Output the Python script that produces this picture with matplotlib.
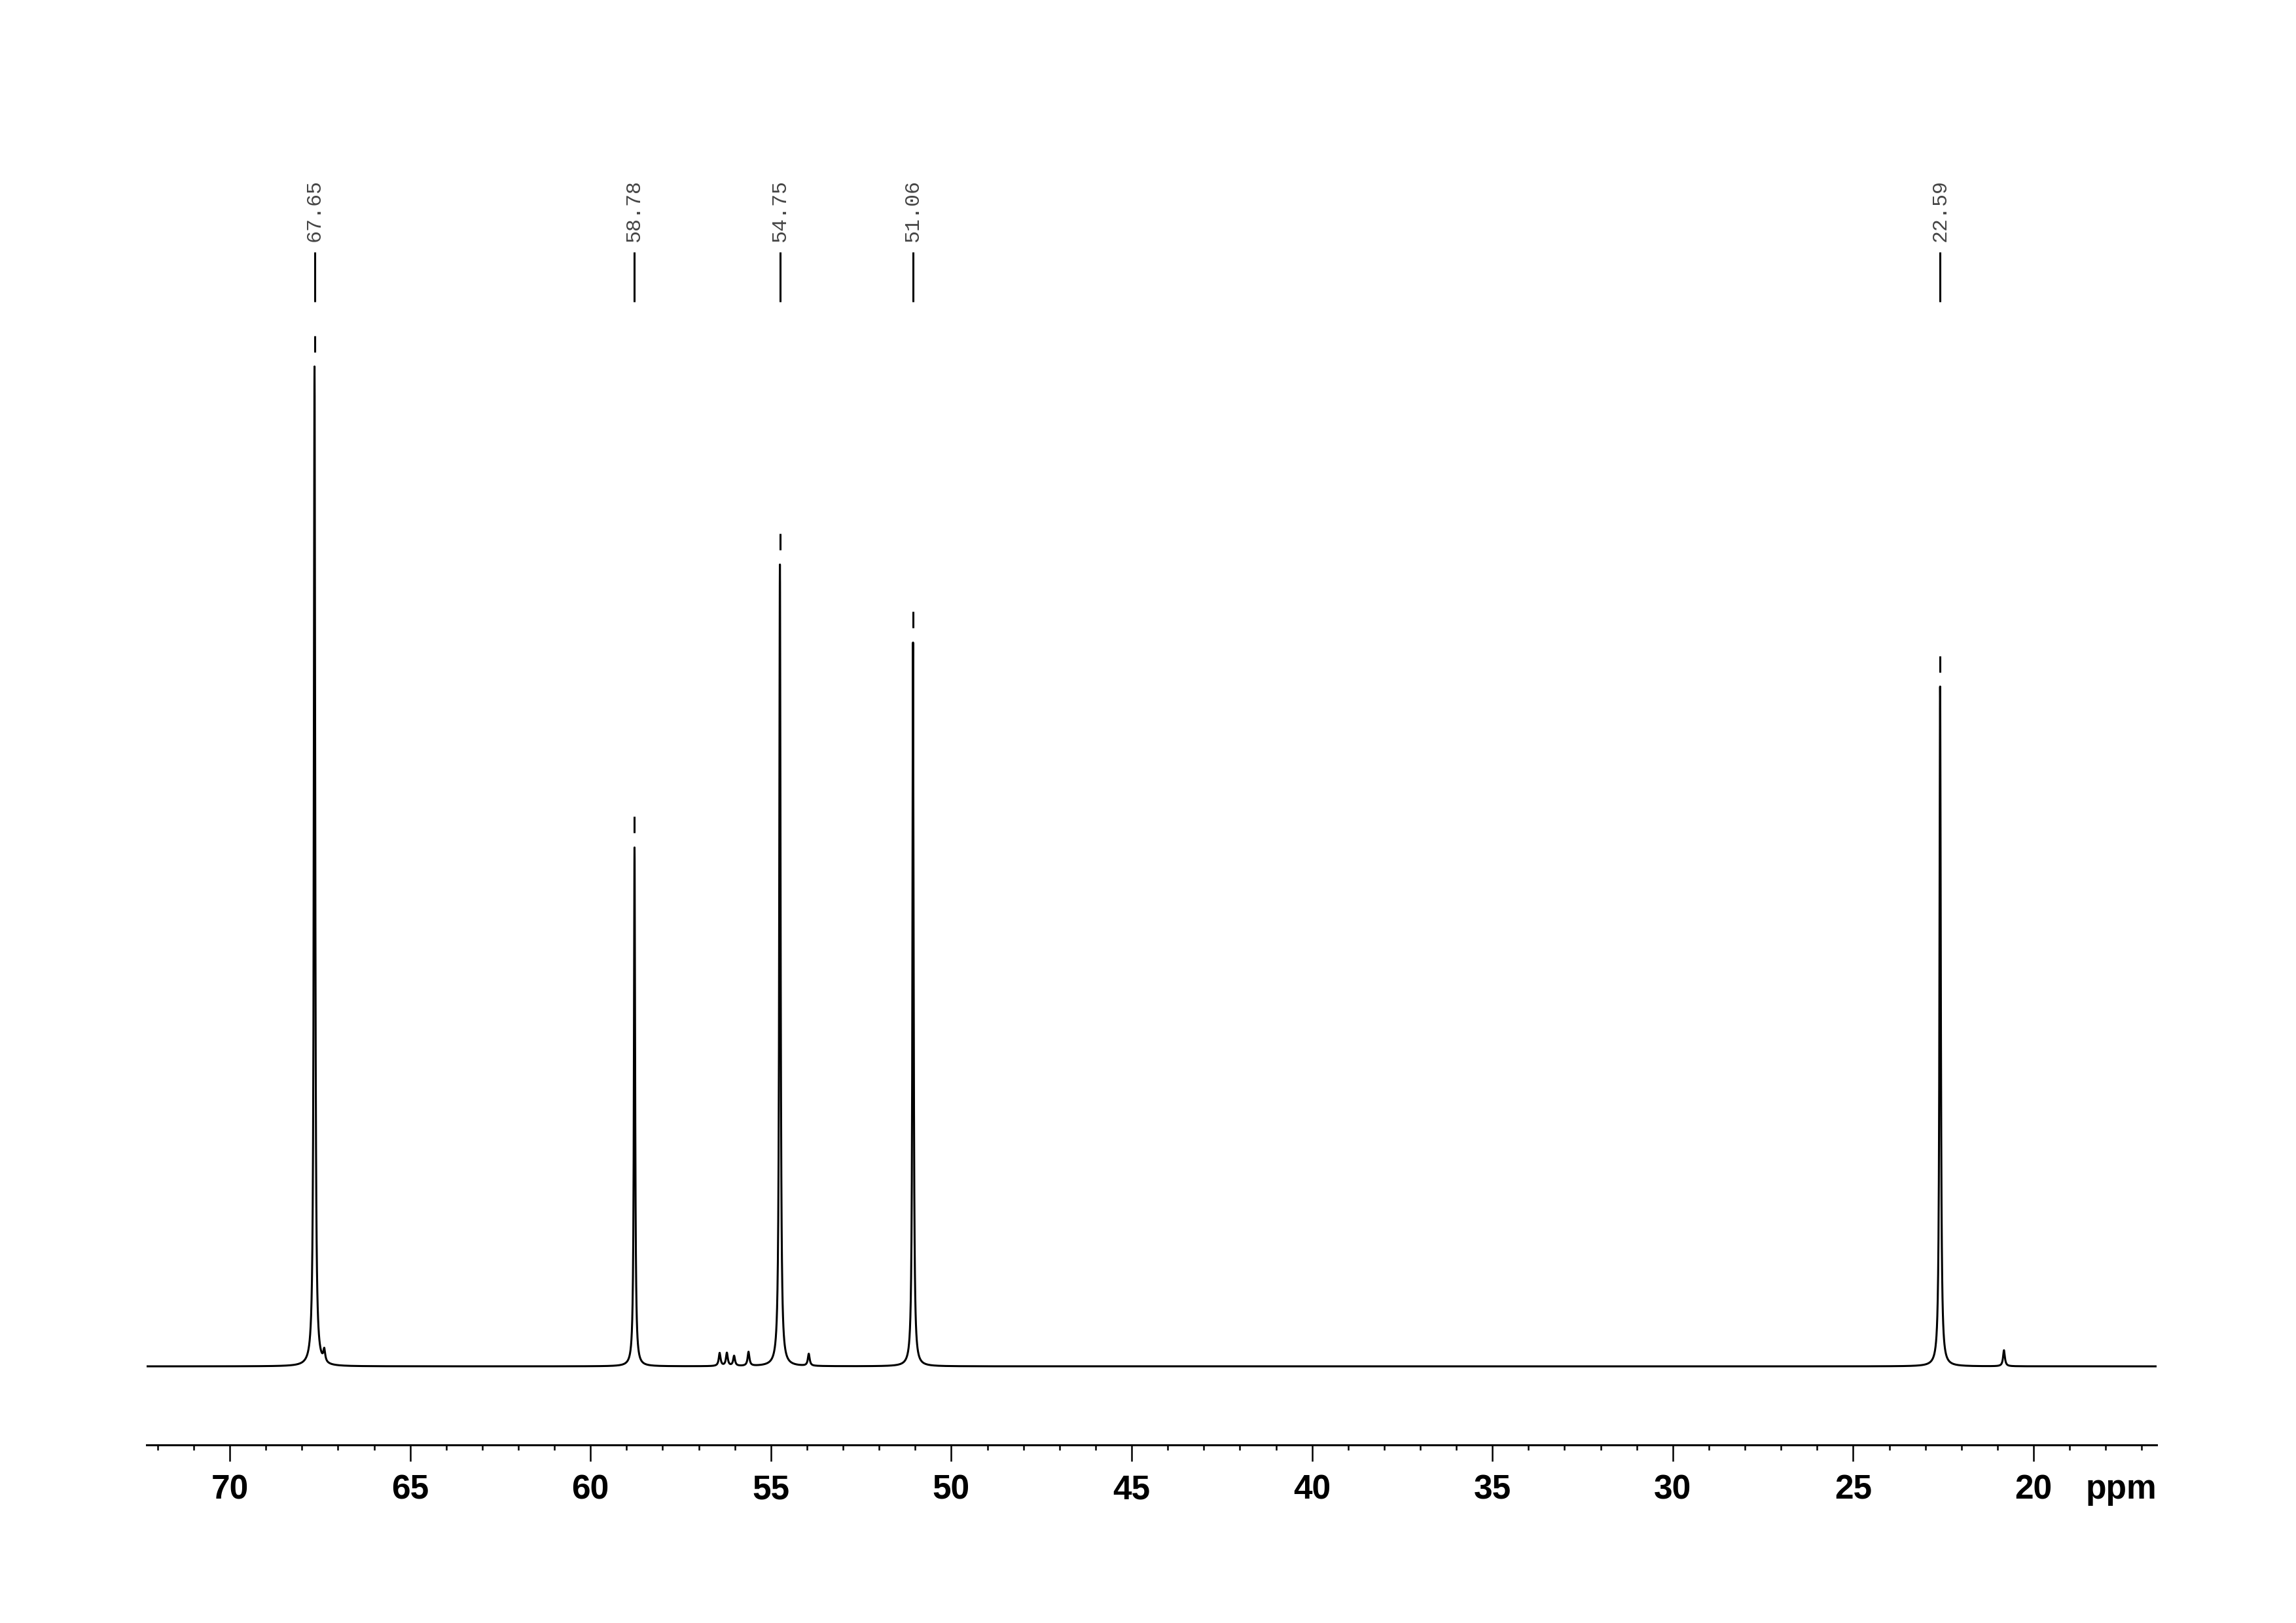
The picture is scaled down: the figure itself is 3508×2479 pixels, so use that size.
import numpy as np
import matplotlib
matplotlib.use('Agg')
import matplotlib.pyplot as plt
from matplotlib.ticker import MultipleLocator


# picked peaks (ppm) and their heights relative to the tallest one
peak_ppm = [67.65, 58.78, 54.75, 51.06, 22.59]
peak_height = [1.0, 0.519, 0.802, 0.724, 0.680]
peak_hwhm = [0.022, 0.020, 0.022, 0.020, 0.022]

# small unlabelled bumps sitting on the baseline
small_ppm = [67.38, 56.42, 56.22, 56.02, 55.62, 53.95, 20.82]
small_height = [0.012, 0.013, 0.013, 0.010, 0.014, 0.012, 0.016]

major_ticks = [70, 65, 60, 55, 50, 45, 40, 35, 30, 25, 20]
ppm_range = (72.31, 16.59)


def lorentz(x, x0, h, g):
    return h / (1 + ((x - x0) / g) ** 2)


ppm = np.union1d(np.linspace(ppm_range[1], ppm_range[0], 40000), peak_ppm)
spec = np.zeros_like(ppm)
for p, h, g in zip(peak_ppm, peak_height, peak_hwhm):
    spec += lorentz(ppm, p, h, g)
for p, h in zip(small_ppm, small_height):
    spec += lorentz(ppm, p, h, 0.03)

# pixel -> data helpers (baseline at row 2087, tallest peak 1527 px high)
base_px, scale_px = 2087, 1527.0
def ydat(px):
    return (base_px - px) / scale_px

W, H = 3508, 2479
fig = plt.figure(figsize=(W / 100, H / 100), dpi=100)
ax_left, ax_right = 223.7 / W, 3295 / W
ax_bot, ax_top = 1 - 2207 / H, 1 - 250 / H
ax = fig.add_axes([ax_left, ax_bot, ax_right - ax_left, ax_top - ax_bot])

ax.plot(ppm, spec, color='black', lw=2.2)

for p, h in zip(peak_ppm, peak_height):
    # small marker dash above the peak top
    ax.plot([p, p], [h + 22 / scale_px, h + 47 / scale_px], color='black', lw=2.2,
            solid_capstyle='butt')
    # label leader line and value
    ax.plot([p, p], [ydat(461), ydat(385)], color='black', lw=2.2, solid_capstyle='butt',
            clip_on=False)
    ax.text(p, ydat(369), f'{p:.2f}', rotation=90, ha='center', va='bottom',
            family=['Liberation Mono', 'DejaVu Sans Mono'], fontsize=22.8, color='#444444')

ax.set_xlim(*ppm_range)
ax.set_ylim(ydat(2207), ydat(250))

for s in ['top', 'left', 'right']:
    ax.spines[s].set_visible(False)
ax.spines['bottom'].set_linewidth(2.2)
ax.set_yticks([])
ax.set_xticks(major_ticks)
ax.xaxis.set_minor_locator(MultipleLocator(1))
ax.tick_params(axis='x', which='major', direction='out', length=18, width=1.8, pad=14)
ax.tick_params(axis='x', which='minor', direction='out', length=6, width=1.8)
for lab in ax.get_xticklabels():
    lab.set_family(['Liberation Sans Narrow', 'Liberation Sans'])
    lab.set_fontweight('bold')
    lab.set_fontsize(37)

ax.annotate('ppm', xy=(1, 0), xycoords='axes fraction', xytext=(0, -32),
            textcoords='offset points', ha='right', va='top',
            family=['Liberation Sans Narrow', 'Liberation Sans'], fontweight='bold',
            fontsize=37)

fig.savefig('out.png', dpi=100)
